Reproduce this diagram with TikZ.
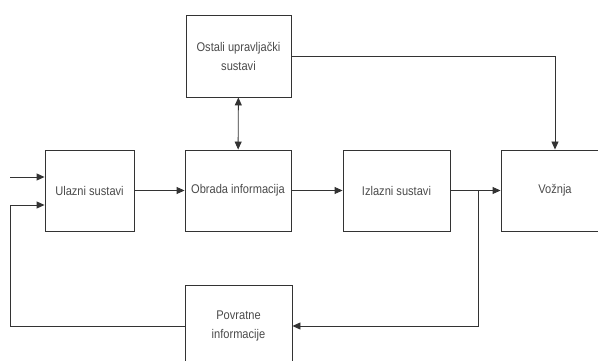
\documentclass[tikz,border=0pt]{standalone}
\usepackage{fontspec}
\setmainfont{Liberation Sans}
\newfontfamily\narrowfont{Liberation Sans}[FakeStretch=0.88]
\usetikzlibrary{arrows.meta}
\definecolor{ln}{HTML}{333333}
\definecolor{tx}{HTML}{4A4A4A}
\begin{document}
\begin{tikzpicture}[x=1pt,y=-1pt,
  blk/.style={draw=ln,line width=0.9pt,inner sep=0pt,text=tx,align=center,font=\narrowfont\fontsize{12.6}{19}\selectfont},
  con/.style={draw=ln,line width=0.9pt},
  arr/.style={con,-{Triangle[length=8pt,width=7pt]}},
  darr/.style={con,{Triangle[length=8pt,width=7pt]}-{Triangle[length=8pt,width=7pt]}}]
\useasboundingbox (0,0) rectangle (598,361);
\clip (0,0) rectangle (598,361);
\node[blk,minimum width=89pt,minimum height=81pt] (ul) at (89.5,190.5) {Ulazni sustavi};
\node[blk,minimum width=106pt,minimum height=81pt] (ob) at (238,190.5) {Obrada informacija};
\node[blk,minimum width=107pt,minimum height=81pt] (iz) at (396.5,190.5) {Izlazni sustavi};
\node[blk,minimum width=108pt,minimum height=81pt] (vo) at (555,190.5) {Vožnja};
\node[blk,minimum width=105pt,minimum height=82pt] (os) at (238.5,56) {Ostali upravljački\\sustavi};
\node[blk,minimum width=107pt,minimum height=82pt] (po) at (238.5,326) {Povratne\\informacije};
\coordinate (in) at (10,177);
\coordinate (fbl) at (10,205);
\coordinate (jn) at (478,190.5);
\draw[arr] (in) -- (in -| ul.west);
\draw[arr] (ul) -- (ob);
\draw[arr] (ob) -- (iz);
\draw[arr] (iz) -- (vo);
\draw[darr] (os) -- (ob);
\draw[arr] (os.east |- 0,56) -| (vo.north);
\draw[arr] (jn) |- (po.east);
\draw[arr] (po.west) -| (fbl) -- (fbl -| ul.west);
\end{tikzpicture}
\end{document}
